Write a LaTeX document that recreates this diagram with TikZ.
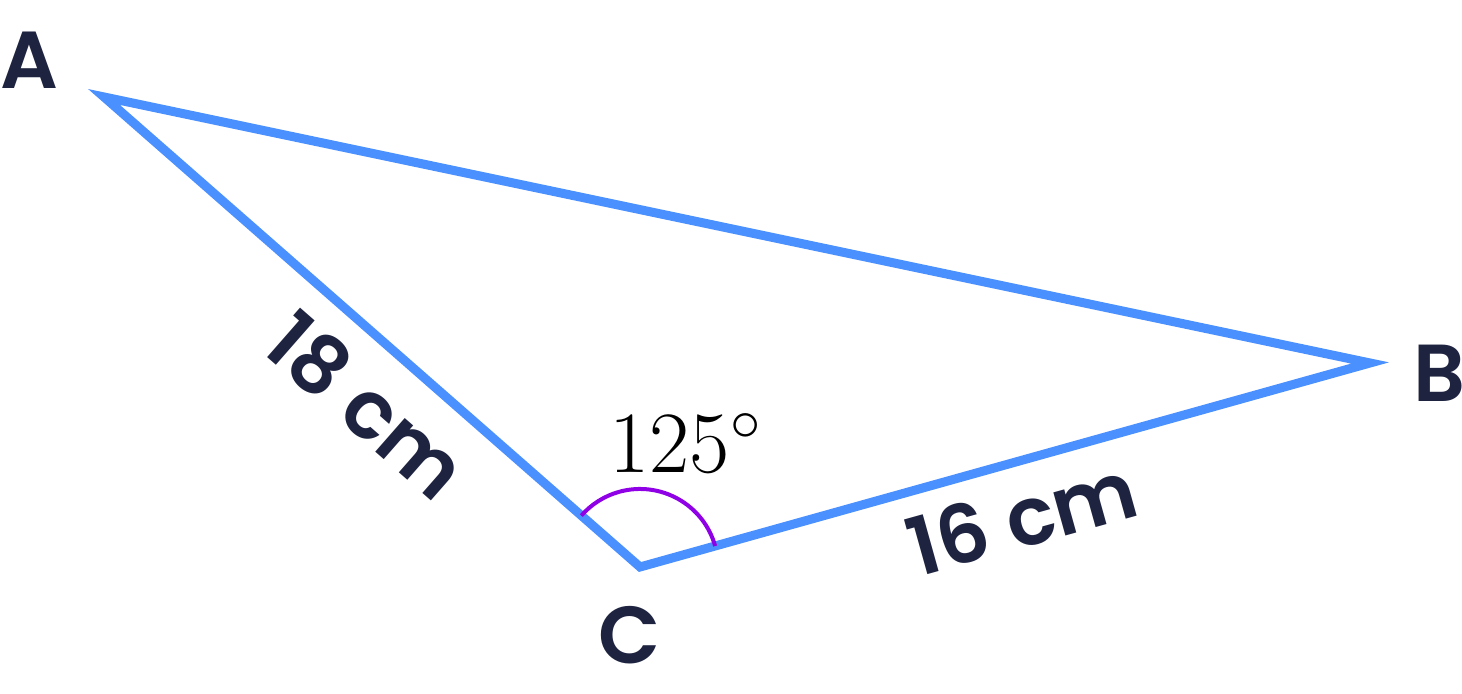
\documentclass[tikz,border=0pt]{standalone}
\usepackage{fontspec}
\newfontfamily\labelfont{Poppins}[BoldFont={Poppins SemiBold}]
\usetikzlibrary{calc}
\definecolor{sideblue}{HTML}{4A90FF}
\definecolor{labelink}{HTML}{1E2340}
\definecolor{anglepurple}{HTML}{8F00E6}
\tikzset{
	vertexlabel/.style={inner sep=0, text=labelink, font=\labelfont\bfseries\fontsize{23}{28}\selectfont},
	side/.style={draw=sideblue, line width=0.09cm, line join=miter}
}

\begin{document}
\begin{tikzpicture}
				\useasboundingbox (0, 0) rectangle (14.62, 6.94);
				
				\coordinate (A) at (1.04, 5.97);
				\coordinate (B) at (13.70, 3.31);
				\coordinate (C) at (6.40, 1.27);
				
				\draw[side] (A) -- (B) -- (C) -- cycle;
				
				\draw[anglepurple, line width = 0.04cm] ($(C)+(15.6:0.78)$) arc (15.6:138.8:0.78);
				\node[inner sep=0, font=\fontsize{24}{29}\selectfont] (angC) at (6.86, 2.51) {$125^\circ$};
				
				\node[vertexlabel] (labA) at (0.29, 6.34) {A};
				\node[vertexlabel] (labB) at (14.39, 3.21) {B};
				\node[vertexlabel] (labC) at (6.30, 0.59) {C};
				
				\node[vertexlabel, rotate=-41.2] (sideAC) at (3.67, 2.89) {18 cm};
				\node[vertexlabel, rotate=15.6] (sideCB) at (10.22, 1.77) {16 cm};
			\end{tikzpicture}
\end{document}
